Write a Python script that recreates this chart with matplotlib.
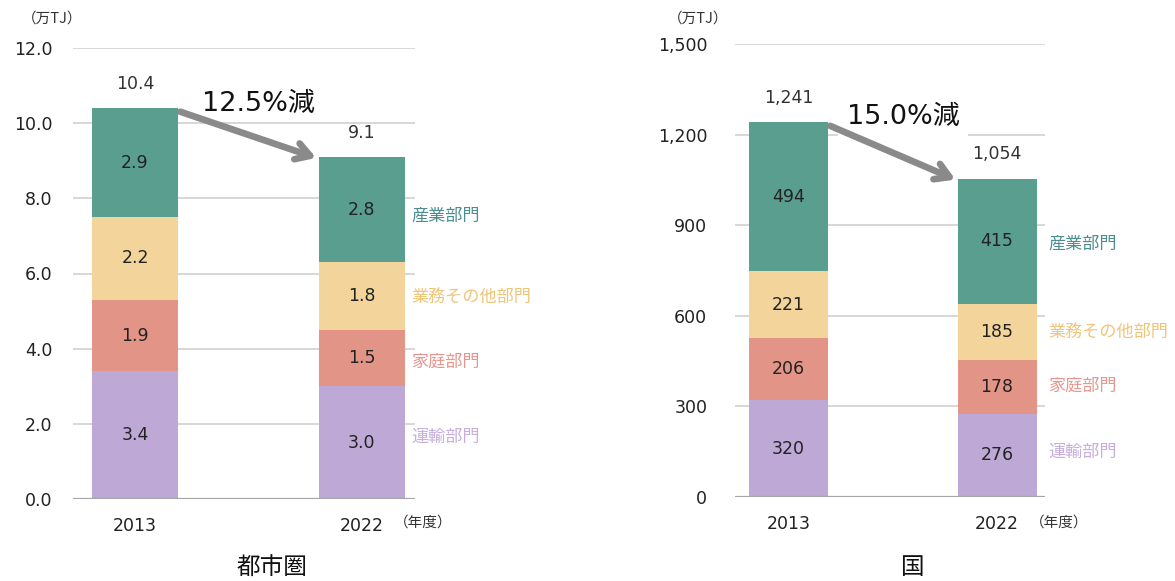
import matplotlib
matplotlib.use("Agg")
import matplotlib.pyplot as plt

plt.rcParams['font.family'] = ['DejaVu Sans', 'Noto Sans CJK JP']
NUM_FONT = ["DejaVu Sans"]
JP_FONT = ["Noto Sans CJK JP", "DejaVu Sans"]

# ---------------- data ----------------
years = ["2013", "2022"]
sectors = ["運輸部門", "家庭部門", "業務その他部門", "産業部門"]

metro_transport = [3.4, 3.0]
metro_household = [1.9, 1.5]
metro_commercial = [2.2, 1.8]
metro_industry = [2.9, 2.8]
metro_totals = ["10.4", "9.1"]

nation_transport = [320, 276]
nation_household = [206, 178]
nation_commercial = [221, 185]
nation_industry = [494, 415]
nation_totals = ["1,241", "1,054"]

metro_ticks = [0, 2, 4, 6, 8, 10, 12]
metro_ticklabels = ["0.0", "2.0", "4.0", "6.0", "8.0", "10.0", "12.0"]
nation_ticks = [0, 300, 600, 900, 1200, 1500]
nation_ticklabels = ["0", "300", "600", "900", "1,200", "1,500"]

metro_change = "12.5%減"
nation_change = "15.0%減"
titles = ["都市圏", "国"]
unit = "（万TJ）"
year_unit = "（年度）"

# ---------------- style ----------------
bar_colors = ["#BDA8D6", "#E29487", "#F3D59B", "#5A9E8F"]
label_colors = ["#C7AEDD", "#E6968F", "#EFC57A", "#4C8E90"]
grid_color = "#D4D4D4"
base_color = "#A6A6A6"

W, H = 1175, 581
fig = plt.figure(figsize=(W / 100, H / 100), dpi=100)


def add_ax(x0, x1, ytop, ybot):
    return fig.add_axes([x0 / W, (H - ybot) / H, (x1 - x0) / W, (ybot - ytop) / H])


def draw_panel(ax, series, totals, ticks, ticklabels, change, xlim, bw, label_fmt,
               legend_y, legend_x, tick_pad, change_pos, change_box, title, title_x,
               unit_x, year_unit_x):
    x = [0, 1]
    ax.set_xlim(*xlim)
    ax.set_ylim(ticks[0], ticks[-1])
    for t in ticks[1:]:
        ax.axhline(t, color=grid_color, lw=1.3, zorder=0)
    ax.axhline(0, color=base_color, lw=1.6, zorder=3)
    bottoms = [0, 0]
    for vals, col in zip(series, bar_colors):
        ax.bar(x, vals, width=bw, bottom=bottoms, color=col, zorder=2, linewidth=0)
        for i in range(2):
            ax.text(x[i], bottoms[i] + vals[i] / 2, label_fmt(vals[i]), ha="center",
                    va="center", fontsize=12.5, color="#222222", zorder=4, family=NUM_FONT)
        bottoms = [b + v for b, v in zip(bottoms, vals)]
    span = ticks[-1] - ticks[0]
    for i in range(2):
        ax.text(x[i], bottoms[i] + span * 0.034, totals[i], ha="center", va="bottom",
                fontsize=12.5, color="#333333", family=NUM_FONT)
    # arrow
    ax.annotate("", xy=(x[1] - bw / 2 - 0.01, bottoms[1] - span * 0.002),
                xytext=(x[0] + bw / 2 + 0.01, bottoms[0] - span * 0.008),
                arrowprops=dict(arrowstyle="->,head_length=1.0,head_width=0.6",
                                color="#8A8A8A", lw=4.8, shrinkA=0, shrinkB=0),
                zorder=6)
    bbox = dict(facecolor="white", edgecolor="none", pad=6) if change_box else None
    ax.text(change_pos[0], change_pos[1], change, ha="center", va="center",
            fontsize=19.5, color="#111111", family=["DejaVu Sans", "Noto Sans CJK JP"],
            bbox=bbox, zorder=5)
    # sector labels
    for name, col, yy in zip(sectors, label_colors, legend_y):
        ax.text(legend_x, yy, name, ha="left", va="center", fontsize=12.3, color=col,
                family=JP_FONT, transform=ax.transData, clip_on=False)
    ax.set_xticks(x)
    ax.set_xticklabels(years, fontsize=12.5, color="#222222", family=NUM_FONT)
    ax.set_yticks(ticks)
    ax.set_yticklabels(ticklabels, fontsize=12.5, color="#222222", family=NUM_FONT)
    ax.tick_params(axis="x", length=0, pad=13)
    ax.tick_params(axis="y", length=0, pad=tick_pad)
    for s in ax.spines.values():
        s.set_visible(False)
    fig.text(title_x / W, 1 - 568 / H, title, ha="center", va="center", fontsize=17,
             family=JP_FONT, color="#111111")
    fig.text(unit_x / W, 1 - 19 / H, unit, ha="left", va="center", fontsize=10.5,
             family=JP_FONT, color="#333333")
    fig.text(year_unit_x / W, 1 - 523 / H, year_unit, ha="left", va="center", fontsize=10.5,
             family=JP_FONT, color="#333333")


ax1 = add_ax(73, 415, 48, 499)
draw_panel(ax1,
           [metro_transport, metro_household, metro_commercial, metro_industry],
           metro_totals, metro_ticks, metro_ticklabels, metro_change,
           (-0.274, 1.236), 0.38, lambda v: f"{v:.1f}",
           [1.65, 3.65, 5.35, 7.55], 1.22, 15, (0.543, 10.5), False,
           "都市圏", 272, 22, 394)

ax2 = add_ax(735, 1045, 44, 497)
draw_panel(ax2,
           [nation_transport, nation_household, nation_commercial, nation_industry],
           nation_totals, nation_ticks, nation_ticklabels, nation_change,
           (-0.257, 1.23), 0.379, lambda v: f"{v:d}",
           [150, 370, 545, 840], 1.245, 20, (0.55, 1258), True,
           "国", 913, 668, 1030)

fig.savefig("out.png", dpi=100, facecolor="white")
